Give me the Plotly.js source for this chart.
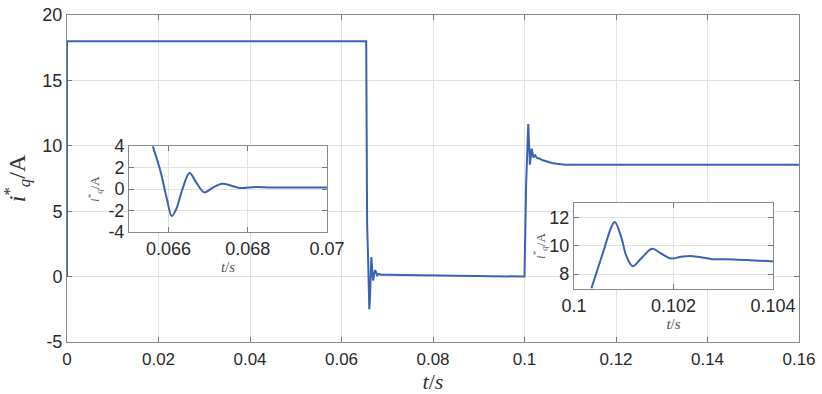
<!DOCTYPE html>
<html><head><meta charset="utf-8">
<script src="https://cdn.plot.ly/plotly-3.0.1.min.js"></script>
<style>html,body{margin:0;padding:0;background:#fff}</style>
</head><body><div id="chart" style="width:822px;height:394px"></div>
<script>
// time (s) and reference current iq* (A)
const t = [0, 0, 0.06540, 0.06560, 0.06580, 0.06595, 0.06608, 0.06620, 0.06635, 0.06653, 0.06670, 0.06690, 0.06710, 0.06735, 0.06760, 0.06780, 0.06820, 0.06860, 0.07000, 0.07500, 0.08000, 0.09000, 0.09990,
           0.10000, 0.10035, 0.10060, 0.10075, 0.10082, 0.10095, 0.10105, 0.10118, 0.10135, 0.10157, 0.10175, 0.10195, 0.10215, 0.10235, 0.10275, 0.10322, 0.10402, 0.10500, 0.10600, 0.10700, 0.10800, 0.10900, 0.16000];
const iq = [0, 18, 18, 4.0, 1.6, -0.8, -2.5, -1.8, 0.0, 1.5, 0.6, -0.3, 0.1, 0.5, 0.3, 0.1, 0.2, 0.15, 0.15, 0.12, 0.08, 0.03, 0.0,
            0.0, 7.0, 9.7, 11.3, 11.67, 10.6, 9.3, 8.56, 9.1, 9.78, 9.45, 9.1, 9.22, 9.28, 9.07, 9.03, 8.89, 8.78, 8.68, 8.62, 8.58, 8.56, 8.55];

const mainXTicks = [0, 0.02, 0.04, 0.06, 0.08, 0.1, 0.12, 0.14, 0.16];
const mainXLabels = ['0', '0.02', '0.04', '0.06', '0.08', '0.1', '0.12', '0.14', '0.16'];
const mainYTicks = [-5, 0, 5, 10, 15, 20];
const mainYLabels = ['-5', '0', '5', '10', '15', '20'];
const inset1XTicks = [0.066, 0.068, 0.07];
const inset1XLabels = ['0.066', '0.068', '0.07'];
const inset1YTicks = [-4, -2, 0, 2, 4];
const inset1YLabels = ['-4', '-2', '0', '2', '4'];
const inset2XTicks = [0.1, 0.102, 0.104];
const inset2XLabels = ['0.1', '0.102', '0.104'];
const inset2YTicks = [8, 10, 12];
const inset2YLabels = ['8', '10', '12'];

function slice(lo, hi) {
  const xs = [], ys = [];
  for (let i = 0; i < t.length; i++) if (t[i] >= lo && t[i] <= hi) { xs.push(t[i]); ys.push(iq[i]); }
  return [xs, ys];
}
const [t1, v1] = slice(0.0656, 0.075);
const [t2, v2] = slice(0.10035, 0.106);

const blue = '#3a62b4';
const serif = '"Liberation Serif", "Times New Roman", serif';
const tickFont = {family: '"Liberation Sans", Arial, sans-serif', size: 18, color: '#2a2a2a'};
const xTickFont = {family: '"Liberation Sans", Arial, sans-serif', size: 17, color: '#2a2a2a'};
const insetTickFont = {family: '"Liberation Sans", Arial, sans-serif', size: 18, color: '#2a2a2a'};
const axisCommon = {
  ticks: 'inside', ticklen: 5, tickcolor: '#777', showline: true, linecolor: '#888', linewidth: 1,
  mirror: 'ticks', showgrid: true, gridcolor: '#e2e2e2', zeroline: false, tickmode: 'array'
};
const ylabelHTML = '<i>i</i><sup>*</sup><sub><i>q</i></sub>/A';
const tlabelHTML = '<i>t</i>/<i>s</i>';

const data = [
  {x: t, y: iq, xaxis: 'x', yaxis: 'y', mode: 'lines', line: {color: blue, width: 2}, hoverinfo: 'skip'},
  {x: t1, y: v1, xaxis: 'x2', yaxis: 'y2', mode: 'lines', line: {color: blue, width: 2, shape: 'spline', smoothing: 1}, hoverinfo: 'skip'},
  {x: t2, y: v2, xaxis: 'x3', yaxis: 'y3', mode: 'lines', line: {color: blue, width: 2, shape: 'spline', smoothing: 1}, hoverinfo: 'skip'}
];

const layout = {
  width: 822, height: 394, showlegend: false,
  margin: {l: 67, r: 23, t: 15, b: 52},
  paper_bgcolor: '#fff', plot_bgcolor: '#fff',
  xaxis: Object.assign({}, axisCommon, {domain: [0, 1], range: [0, 0.16], tickvals: mainXTicks, ticktext: mainXLabels, tickfont: xTickFont, ticklabelstandoff: 2,
    title: {text: tlabelHTML, font: {family: serif, size: 22, color: '#333'}, standoff: 6}}),
  yaxis: Object.assign({}, axisCommon, {domain: [0, 1], range: [-5, 20], tickvals: mainYTicks, ticktext: mainYLabels, tickfont: tickFont,
    title: {text: ylabelHTML, font: {family: serif, size: 24, color: '#333'}, standoff: 12}}),
  xaxis2: Object.assign({}, axisCommon, {domain: [0.0847, 0.3552], range: [0.065, 0.07], anchor: 'y2', tickvals: inset1XTicks, ticktext: inset1XLabels, tickfont: insetTickFont,
    title: {text: tlabelHTML, font: {family: serif, size: 15, color: '#555'}, standoff: 2}}),
  yaxis2: Object.assign({}, axisCommon, {domain: [0.336, 0.599], range: [-4, 4], anchor: 'x2', tickvals: inset1YTicks, ticktext: inset1YLabels, tickfont: insetTickFont,
    title: {text: ylabelHTML, font: {family: serif, size: 13, color: '#555'}, standoff: 5}}),
  xaxis3: Object.assign({}, axisCommon, {domain: [0.6926, 0.9645], range: [0.1, 0.104], anchor: 'y3', tickvals: inset2XTicks, ticktext: inset2XLabels, tickfont: insetTickFont,
    title: {text: tlabelHTML, font: {family: serif, size: 15, color: '#555'}, standoff: 2}}),
  yaxis3: Object.assign({}, axisCommon, {domain: [0.162, 0.425], range: [6.95, 13], anchor: 'x3', tickvals: inset2YTicks, ticktext: inset2YLabels, tickfont: insetTickFont,
    title: {text: ylabelHTML, font: {family: serif, size: 13, color: '#555'}, standoff: 0}})
};

Plotly.newPlot('chart', data, layout, {displayModeBar: false, staticPlot: true});
</script>
</body></html>
